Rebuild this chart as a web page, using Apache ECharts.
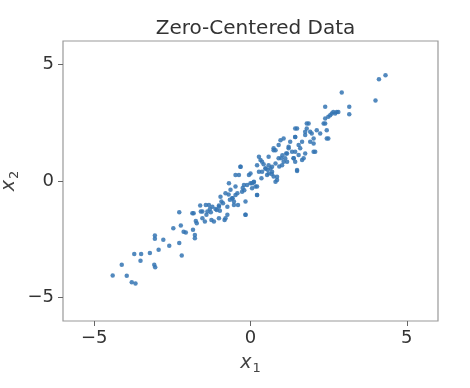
<!DOCTYPE html>
<html><head><meta charset="utf-8">
<script src="https://cdn.jsdelivr.net/npm/echarts@6/dist/echarts.min.js"></script>
<style>html,body{margin:0;padding:0;background:#fff}#c{width:470px;height:388px}</style>
</head><body><div id="c"></div>
<script>
const titleText = 'Zero-Centered Data';
const xTicks = [-5, 0, 5];
const yTicks = [-5, 0, 5];
const xs = [
-4.41,-4.12,-3.96,-3.80,-3.68,-3.72,-3.50,-3.52,-3.22,-3.08,-3.05,-3.06,-3.06,-2.94,-2.79,-2.60,-2.47,-2.28,-2.20,-2.28,-2.23,-2.14,-2.07,-1.84,-1.78,-1.78,-1.82,-1.75,-1.72,
-1.61,-1.54,-1.46,-1.41,-1.33,-1.27,-1.17,-1.08,-1.01,-0.93,-0.83,-0.74,-0.64,-0.58,-0.53,-0.48,-0.40,-0.37,-0.32,-0.27,-0.16,-0.16,-0.11,-0.05,0.00,0.05,0.11,0.16,0.21,
0.27,0.32,0.37,0.48,0.53,0.58,0.64,0.69,0.74,0.80,0.85,0.74,0.80,0.90,0.96,1.01,1.06,1.11,1.17,1.22,1.27,1.33,1.38,1.43,1.49,1.43,1.49,1.54,1.59,1.65,1.70,1.75,1.80,1.86,
1.91,1.96,2.02,2.07,2.12,2.23,2.34,2.39,2.44,2.49,2.39,2.49,2.55,2.60,2.65,2.71,2.76,2.81,2.92,3.16,3.16,4.00,4.11,4.32,
-0.32,0.21,-0.48,0.00,-0.69,-0.48,-0.21,0.05,0.21,-0.80,-0.96,-0.58,0.21,-1.43,-1.22,-1.01,-1.59,-1.38,-0.74,-0.53,-0.16,-1.86,-1.54,-1.25,-1.01,-0.80,
1.43,1.80,1.75,1.91,2.39,2.44,1.06,1.43,0.90,1.22,1.54,2.02,0.74,1.14,1.43,1.75,2.02,0.58,0.98,1.38,1.65,0.37,0.80,1.17,0.48,0.69,1.49,0.27,0.58,0.85,
-1.12,-0.88,-0.66,-0.42,-0.20,0.10,0.35,0.55,0.68,0.92,-1.30,-0.98,-0.70,-0.25,0.42,1.02
];
const ys = [
-4.05,-3.59,-4.06,-4.34,-4.39,-3.13,-3.13,-3.42,-3.09,-3.59,-3.70,-2.34,-2.48,-2.95,-2.52,-2.78,-2.02,-2.66,-3.19,-1.34,-1.91,-2.17,-2.21,-2.09,-2.31,-2.45,-1.38,-1.71,-1.81,
-1.05,-1.31,-1.74,-1.45,-1.03,-1.34,-1.74,-1.24,-1.05,-0.88,-1.67,-1.45,-0.38,-0.74,-0.88,-0.60,-1.03,0.26,0.61,-0.46,-1.45,-0.88,-0.17,0.26,-0.10,-0.31,-0.03,-0.24,-0.60,
1.04,0.90,0.40,0.54,0.26,0.68,0.54,0.40,0.19,-0.03,0.04,1.40,1.32,0.97,1.75,0.68,0.83,0.97,1.18,1.40,1.68,1.25,0.97,0.83,0.43,1.89,2.25,1.11,1.40,1.68,0.97,1.97,2.25,2.46,
1.68,2.04,1.82,1.25,2.18,2.04,2.46,3.18,2.18,1.82,2.68,2.75,2.82,2.89,2.96,2.89,2.96,2.96,3.79,3.18,2.86,3.45,4.36,4.53,
0.61,0.68,0.26,0.32,-0.10,-0.24,-0.17,-0.10,-0.24,-0.53,-0.67,-0.74,-0.60,-1.03,-1.10,-1.10,-1.31,-1.31,-1.10,-1.03,-1.45,-1.38,-1.60,-1.67,-1.60,-1.60,
2.25,2.46,2.11,2.11,2.46,1.82,1.82,1.89,1.54,1.47,1.54,1.61,1.32,1.18,1.25,1.18,1.25,1.04,0.97,0.97,0.90,0.82,0.75,0.82,0.54,0.61,0.47,0.40,0.32,0.18,
-1.20,-0.95,-0.80,-0.52,-0.40,-0.05,0.12,0.48,0.30,0.62,-1.20,-1.28,-0.58,-0.30,0.72,1.10
];
const points = xs.map((x, i) => [x, ys[i]]);

const FONT = 'DejaVu Sans';
const chart = echarts.init(document.getElementById('c'), null, {renderer: 'canvas'});
const axisCommon = {
  type: 'value', min: -6, max: 6,
  axisLine: {show: false, onZero: false},
  splitLine: {show: false},
  axisTick: {show: true, inside: false, length: 5, lineStyle: {color: '#666', width: 1}},
};
const fmt = v => (v < 0 ? '\u2212' + Math.abs(v) : String(v));
const nameRich = {
  i: {fontFamily: FONT, fontStyle: 'italic', fontSize: 19, color: '#444'},
  s: {fontFamily: FONT, fontSize: 13, color: '#444', verticalAlign: 'bottom', padding: [10, 0, 0, 1]}
};
chart.setOption({
  animation: false,
  backgroundColor: '#fff',
  title: {
    text: titleText, left: 250.5, top: 14, textAlign: 'center',
    textStyle: {fontFamily: FONT, fontSize: 20, fontWeight: 'normal', color: '#333'}
  },
  grid: {left: 63, right: 32, top: 41, bottom: 67, show: true, borderColor: '#999', borderWidth: 1.2,
    backgroundColor: '#fff', containLabel: false, outerBoundsMode: 'none'},
  xAxis: Object.assign({}, axisCommon, {
    axisTick: Object.assign({}, axisCommon.axisTick, {customValues: xTicks}),
    axisLabel: {customValues: xTicks, margin: 8, fontFamily: FONT, fontSize: 18, color: '#333', formatter: fmt},
    name: '{i|x}{s|1}', nameLocation: 'middle', nameGap: 31, nameMoveOverlap: false,
    nameTextStyle: {rich: nameRich}
  }),
  yAxis: Object.assign({}, axisCommon, {
    axisTick: Object.assign({}, axisCommon.axisTick, {customValues: yTicks}),
    axisLabel: {customValues: yTicks, margin: 9, fontFamily: FONT, fontSize: 18, color: '#333', formatter: fmt},
    name: '{i|x}{s|2}', nameLocation: 'middle', nameGap: 42, nameRotate: 90, nameMoveOverlap: false,
    nameTextStyle: {rich: nameRich}
  }),
  series: [{
    type: 'scatter', data: points, symbol: 'circle', symbolSize: 4.5,
    itemStyle: {color: '#3474b3', opacity: 0.85}
  }]
});
</script></body></html>
